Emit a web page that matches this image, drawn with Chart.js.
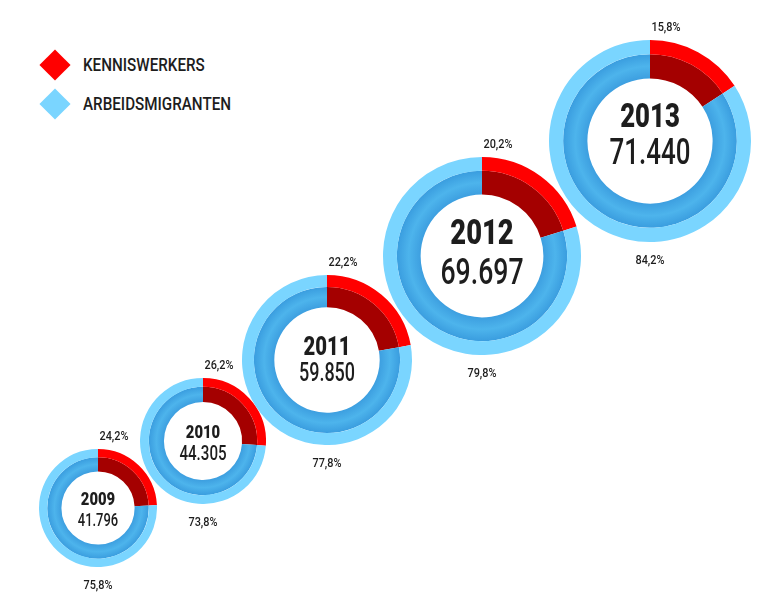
<!DOCTYPE html>
<html>
<head>
<meta charset="utf-8">
<script src="https://cdn.jsdelivr.net/npm/chart.js@4.4.1/dist/chart.umd.min.js"></script>
<style>
html,body{margin:0;padding:0;background:#fff;}
body{width:783px;height:615px;position:relative;overflow:hidden;font-family:Roboto,"DejaVu Sans Condensed",sans-serif;color:#1d1d1d;}
canvas{position:absolute;}
.lbl{position:absolute;white-space:nowrap;line-height:1;font-weight:500;}
.pct{font-size:13px;transform:translate(-50%,-50%) scaleX(0.84);}
.num{transform:translate(-50%,-50%) scaleX(0.72);}
.lbl.yr{font-weight:900;transform:translate(-50%,-50%) scaleX(0.78);}
.leg{position:absolute;left:39px;height:31px;display:flex;align-items:center;}
.dia{width:22px;height:22px;transform:rotate(45deg);margin-left:4.5px;margin-right:17.5px;flex:none;}
.legtxt{font-size:19px;font-weight:500;display:inline-block;transform:scaleX(0.8);transform-origin:left center;}
</style>
</head>
<body>
<div class="leg" style="top:49px"><div class="dia" style="background:#ff0000"></div><span class="legtxt" id="leg0"></span></div>
<div class="leg" style="top:88px"><div class="dia" style="background:#7ad5ff"></div><span class="legtxt" id="leg1"></span></div>
<script>
// ---- data ----
const years = ['2009', '2010', '2011', '2012', '2013'];
const totals = [41796, 44305, 59850, 69697, 71440];
const kennisPct = [24.2, 26.2, 22.2, 20.2, 15.8];
const arbeidsPct = [75.8, 73.8, 77.8, 79.8, 84.2];
const seriesLabels = ['KENNISWERKERS', 'ARBEIDSMIGRANTEN'];

// ---- layout (positions / sizes) ----
const centers = [[98, 508], [203, 441], [327, 360], [481.5, 256], [650, 141]];
const pxPerThousand = 1.42;
const yearFont = [19, 19, 26, 35, 33];
const numFont = [18, 21, 25, 37, 36];
const yearDy = [-10, -10, -14, -24, -26];
const numDy = [12, 12, 12, 15, 11];

document.getElementById('leg0').textContent = seriesLabels[0];
document.getElementById('leg1').textContent = seriesLabels[1];

function fmtTotal(v) { return v.toLocaleString('de-DE'); }
function fmtPct(v) { return v.toFixed(1).replace('.', ',') + '%'; }

function addLabel(text, x, y, cls, size) {
  const d = document.createElement('div');
  d.className = 'lbl ' + cls;
  d.textContent = text;
  d.style.left = x + 'px';
  d.style.top = y + 'px';
  if (size) d.style.fontSize = size + 'px';
  document.body.appendChild(d);
}

years.forEach((yr, i) => {
  const r = Math.round(totals[i] / 1000 * pxPerThousand);
  const [cx, cy] = centers[i];
  const cv = document.createElement('canvas');
  cv.width = 2 * r; cv.height = 2 * r;
  cv.style.left = (cx - r) + 'px';
  cv.style.top = (cy - r) + 'px';
  cv.style.width = 2 * r + 'px';
  cv.style.height = 2 * r + 'px';
  document.body.appendChild(cv);
  new Chart(cv, {
    type: 'doughnut',
    data: {
      labels: seriesLabels,
      datasets: [
        { data: [kennisPct[i], arbeidsPct[i]], backgroundColor: ['#ff0000', '#7ad5ff'], weight: 14, borderWidth: 0 },
        { data: [kennisPct[i], arbeidsPct[i]], borderWidth: 0, weight: 24,
          backgroundColor: (c) => {
            if (c.dataIndex === 0) return '#a40000';
            const ch = c.chart, a = ch.chartArea;
            if (!a) return '#45ade6';
            const x = (a.left + a.right) / 2, y = (a.top + a.bottom) / 2;
            const R = Math.min(a.right - a.left, a.bottom - a.top) / 2;
            const g = ch.ctx.createRadialGradient(x, y, R * 0.62, x, y, R * 0.86);
            g.addColorStop(0, '#3d9fe0');
            g.addColorStop(0.5, '#4db4ec');
            g.addColorStop(1, '#3a9ddf');
            return g;
          }
        }
      ]
    },
    options: {
      responsive: false,
      animation: false,
      cutout: '62%',
      events: [],
      layout: { padding: 0 },
      plugins: { legend: { display: false }, tooltip: { enabled: false } }
    }
  });
  addLabel(yr, cx, cy + yearDy[i], 'yr', yearFont[i]);
  addLabel(fmtTotal(totals[i]), cx, cy + numDy[i], 'num', numFont[i]);
  addLabel(fmtPct(kennisPct[i]), cx + 16, cy - r - 14, 'pct');
  addLabel(fmtPct(arbeidsPct[i]), cx, cy + r + 17, 'pct');
});
</script>
</body>
</html>
